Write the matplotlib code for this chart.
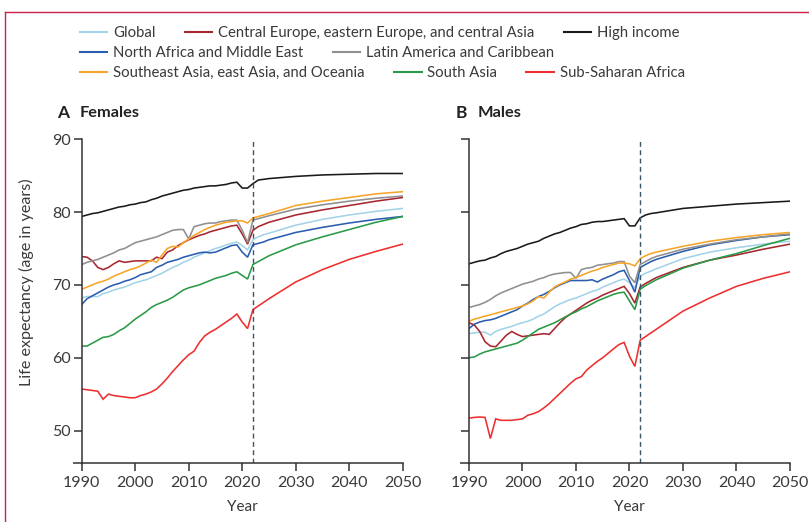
import matplotlib
matplotlib.use('Agg')
import matplotlib.pyplot as plt
from matplotlib.lines import Line2D

plt.rcParams['font.family'] = ['Lato', 'DejaVu Sans']

# years: annual to 2025, then 5-yearly projections
years = list(range(1990, 2026)) + [2030, 2035, 2040, 2045, 2050]

# ---- females ----
f_global = [68.2, 68.4, 68.4, 68.4, 68.8, 69.0, 69.3, 69.5, 69.7, 70.0,
            70.3, 70.5, 70.7, 71.0, 71.3, 71.6, 72.0, 72.4, 72.7, 73.1,
            73.4, 73.8, 74.1, 74.4, 74.7, 75.0, 75.2, 75.5, 75.7, 75.9,
            75.4, 74.8, 76.2, 76.6, 76.9, 77.1,
            78.2, 79.0, 79.6, 80.1, 80.5]
f_cee = [73.9, 73.8, 73.3, 72.4, 72.1, 72.4, 72.9, 73.3, 73.1, 73.2,
         73.3, 73.3, 73.3, 73.3, 73.8, 73.6, 74.5, 74.8, 75.4, 75.8,
         76.2, 76.5, 76.8, 77.0, 77.3, 77.5, 77.7, 77.9, 78.1, 78.2,
         77.0, 75.6, 77.5, 78.0, 78.3, 78.6,
         79.6, 80.3, 80.9, 81.5, 82.0]
f_high = [79.4, 79.6, 79.8, 79.9, 80.1, 80.3, 80.5, 80.7, 80.8, 81.0,
          81.1, 81.3, 81.4, 81.7, 81.9, 82.2, 82.4, 82.6, 82.8, 83.0,
          83.1, 83.3, 83.4, 83.5, 83.6, 83.6, 83.7, 83.8, 84.0, 84.1,
          83.3, 83.3, 83.9, 84.4, 84.5, 84.6,
          84.9, 85.1, 85.2, 85.3, 85.3]
f_name = [67.3, 68.1, 68.5, 68.9, 69.3, 69.7, 70.0, 70.2, 70.5, 70.7,
          71.0, 71.4, 71.6, 71.8, 72.4, 72.7, 73.1, 73.3, 73.5, 73.8,
          74.0, 74.2, 74.4, 74.5, 74.4, 74.5, 74.8, 75.1, 75.4, 75.5,
          74.5, 73.8, 75.5, 75.7, 75.9, 76.2,
          77.2, 77.9, 78.5, 79.0, 79.4]
f_lac = [72.8, 73.1, 73.3, 73.5, 73.8, 74.1, 74.4, 74.8, 75.0, 75.4,
         75.8, 76.0, 76.2, 76.4, 76.6, 76.9, 77.2, 77.5, 77.6, 77.6,
         76.3, 78.0, 78.2, 78.4, 78.5, 78.5, 78.7, 78.8, 78.9, 78.9,
         77.5, 75.8, 78.9, 79.1, 79.3, 79.5,
         80.4, 81.0, 81.5, 81.9, 82.2]
f_sea = [69.4, 69.7, 70.0, 70.3, 70.5, 70.8, 71.2, 71.5, 71.8, 72.1,
         72.3, 72.6, 73.0, 73.4, 73.1, 74.1, 75.0, 75.3, 75.2, 75.8,
         76.3, 76.8, 77.2, 77.6, 77.9, 78.2, 78.4, 78.6, 78.7, 78.8,
         78.8, 78.5, 79.2, 79.4, 79.6, 79.8,
         80.9, 81.5, 82.0, 82.5, 82.8]
f_sa = [61.6, 61.6, 62.0, 62.4, 62.8, 62.9, 63.2, 63.7, 64.1, 64.7,
        65.3, 65.8, 66.3, 66.9, 67.3, 67.6, 67.9, 68.3, 68.8, 69.3,
        69.6, 69.8, 70.0, 70.3, 70.6, 70.9, 71.1, 71.3, 71.6, 71.8,
        71.3, 70.8, 72.8, 73.2, 73.6, 74.0,
        75.5, 76.6, 77.6, 78.6, 79.4]
f_ssa = [55.7, 55.6, 55.5, 55.4, 54.3, 55.0, 54.8, 54.7, 54.6, 54.5,
         54.5, 54.8, 55.0, 55.3, 55.7, 56.4, 57.2, 58.1, 58.9, 59.7,
         60.4, 60.9, 62.1, 63.0, 63.5, 63.9, 64.4, 64.9, 65.4, 66.0,
         64.9, 64.0, 66.6, 67.1, 67.6, 68.1,
         70.4, 72.1, 73.5, 74.6, 75.6]

# ---- males ----
m_global = [63.3, 63.4, 63.5, 63.5, 63.1, 63.6, 63.9, 64.1, 64.3, 64.6,
            64.8, 65.0, 65.3, 65.7, 66.0, 66.5, 67.0, 67.4, 67.7, 68.0,
            68.2, 68.5, 68.8, 69.1, 69.3, 69.7, 70.0, 70.3, 70.6, 70.8,
            70.3, 69.6, 71.2, 71.6, 71.9, 72.2,
            73.6, 74.5, 75.1, 75.6, 76.0]
m_cee = [64.8, 64.5, 63.6, 62.2, 61.6, 61.5, 62.3, 63.1, 63.6, 63.2,
         62.9, 63.0, 63.1, 63.2, 63.3, 63.2, 64.0, 64.8, 65.5, 66.0,
         66.5, 67.0, 67.5, 67.9, 68.2, 68.6, 68.9, 69.2, 69.5, 69.8,
         68.8, 67.5, 69.7, 70.2, 70.6, 71.0,
         72.4, 73.4, 74.1, 74.9, 75.6]
m_high = [72.9, 73.1, 73.3, 73.4, 73.7, 73.9, 74.3, 74.6, 74.8, 75.0,
          75.3, 75.6, 75.8, 76.0, 76.4, 76.7, 77.0, 77.2, 77.5, 77.8,
          78.0, 78.3, 78.4, 78.6, 78.7, 78.7, 78.8, 78.9, 79.0, 79.1,
          78.1, 78.1, 79.2, 79.6, 79.8, 79.9,
          80.5, 80.8, 81.1, 81.3, 81.5]
m_name = [64.0, 64.6, 64.9, 65.1, 65.2, 65.4, 65.7, 66.0, 66.3, 66.6,
          67.1, 67.5, 68.0, 68.4, 68.7, 69.1, 69.6, 70.0, 70.3, 70.6,
          70.6, 70.6, 70.6, 70.7, 70.4, 70.8, 71.1, 71.4, 71.8, 72.0,
          70.6, 69.0, 72.4, 72.8, 73.2, 73.5,
          74.6, 75.5, 76.1, 76.6, 76.9]
m_lac = [66.9, 67.1, 67.3, 67.6, 68.0, 68.5, 68.9, 69.2, 69.5, 69.8,
         70.1, 70.3, 70.5, 70.8, 71.0, 71.3, 71.5, 71.6, 71.7, 71.7,
         70.9, 72.1, 72.3, 72.4, 72.7, 72.8, 72.9, 73.0, 73.2, 73.2,
         71.2, 70.3, 72.8, 73.2, 73.6, 73.9,
         74.9, 75.6, 76.2, 76.6, 77.0]
m_sea = [65.0, 65.3, 65.5, 65.7, 65.9, 66.1, 66.3, 66.5, 66.7, 66.9,
         67.1, 67.4, 67.8, 68.4, 68.2, 69.0, 69.7, 70.1, 70.4, 70.8,
         71.0, 71.3, 71.6, 71.9, 72.1, 72.4, 72.6, 72.8, 73.0, 73.0,
         72.9, 72.6, 73.6, 74.0, 74.3, 74.5,
         75.3, 76.0, 76.5, 76.9, 77.2]
m_sa = [60.0, 60.1, 60.5, 60.8, 61.0, 61.2, 61.4, 61.6, 61.8, 62.0,
        62.4, 62.9, 63.4, 63.9, 64.2, 64.5, 64.8, 65.2, 65.6, 66.0,
        66.3, 66.7, 67.0, 67.4, 67.8, 68.1, 68.4, 68.7, 68.9, 69.0,
        67.8, 66.6, 69.4, 69.9, 70.3, 70.7,
        72.3, 73.4, 74.3, 75.4, 76.4]
m_ssa = [51.7, 51.8, 51.85, 51.8, 48.9, 51.6, 51.4, 51.4, 51.4, 51.5,
         51.6, 52.1, 52.3, 52.6, 53.1, 53.7, 54.4, 55.1, 55.8, 56.5,
         57.1, 57.4, 58.3, 58.9, 59.5, 60.0, 60.6, 61.2, 61.8, 62.1,
         60.2, 58.8, 62.4, 62.9, 63.4, 63.9,
         66.4, 68.2, 69.8, 70.9, 71.8]

labels = ['Global', 'Central Europe, eastern Europe, and central Asia', 'High income',
          'North Africa and Middle East', 'Latin America and Caribbean',
          'Southeast Asia, east Asia, and Oceania', 'South Asia', 'Sub-Saharan Africa']
colors = ['#a3d3e8', '#a8262f', '#1a1a1a', '#2a5db0', '#8f8f8f', '#f7a529', '#2a9a47', '#ee2f2f']
female = [f_global, f_cee, f_high, f_name, f_lac, f_sea, f_sa, f_ssa]
male = [m_global, m_cee, m_high, m_name, m_lac, m_sea, m_sa, m_ssa]

txt = '#3a3a3a'
spine_c = '#333333'

fig = plt.figure(figsize=(8.09, 5.22), dpi=100)
ax_f = fig.add_axes([0.101, 0.1125, 0.3968, 0.6207])
ax_m = fig.add_axes([0.5797, 0.1125, 0.3968, 0.6207])

for ax, series in ((ax_f, female), (ax_m, male)):
    for vals, c in zip(series, colors):
        ax.plot(years, vals, color=c, lw=1.15, solid_joinstyle='miter')
    ax.axvline(2022, color='#3b5566', lw=1.0, ls=(0, (3.5, 2.5)))
    ax.set_xlim(1990, 2050)
    ax.set_ylim(45.5, 90)
    ax.set_xticks(range(1990, 2051, 10))
    ax.set_yticks([50, 60, 70, 80, 90])
    for s in ('top', 'right'):
        ax.spines[s].set_visible(False)
    for s in ('left', 'bottom'):
        ax.spines[s].set_color(spine_c)
        ax.spines[s].set_linewidth(1.1)
    # bottom axis line runs a little past the y axis
    ax.plot([-0.027, 0], [0, 0], transform=ax.transAxes, color=spine_c, lw=1.1,
            clip_on=False, solid_capstyle='butt')
    ax.tick_params(axis='both', colors=spine_c, labelcolor=txt, labelsize=11.5,
                   length=6, width=1.1)
    ax.tick_params(axis='y', pad=2)
    ax.set_xlabel('Year', fontsize=11, color=txt, labelpad=7)

ax_m.tick_params(axis='y', labelleft=False)
ax_f.set_ylabel('Life expectancy (age in years)', fontsize=11.6, color=txt)
ax_f.yaxis.set_label_coords(-0.15, 0.56)

fig.text(0.070, 0.783, 'A', fontsize=12.5, fontweight='bold', color='#222222', va='center')
fig.text(0.099, 0.783, 'Females', fontsize=11.8, fontweight='bold', color='#222222', va='center')
fig.text(0.563, 0.783, 'B', fontsize=12.5, fontweight='bold', color='#222222', va='center')
fig.text(0.590, 0.783, 'Males', fontsize=11.8, fontweight='bold', color='#222222', va='center')

# legend laid out in three flowing rows
rows = [[0, 1, 2], [3, 4], [5, 6, 7]]
row_y = [1 - 33 / 522, 1 - 53 / 522, 1 - 73 / 522]
for idx, y in zip(rows, row_y):
    handles = [Line2D([], [], color=colors[i], lw=1.5) for i in idx]
    leg = fig.legend(handles, [labels[i] for i in idx], loc='center left',
                     bbox_to_anchor=(80 / 809, y), ncol=len(idx), frameon=False,
                     fontsize=10.7, handlelength=1.85, handletextpad=0.4,
                     columnspacing=1.95, borderpad=0, borderaxespad=0)
    for t in leg.get_texts():
        t.set_color(txt)

# panel border of the figure
fig.add_artist(Line2D([5 / 809, 1], [1 - 12 / 522] * 2, color='#c9234b', lw=1.0))
fig.add_artist(Line2D([5 / 809] * 2, [0, 1 - 12 / 522], color='#c9234b', lw=1.0))

fig.savefig('out.png', dpi=100)
